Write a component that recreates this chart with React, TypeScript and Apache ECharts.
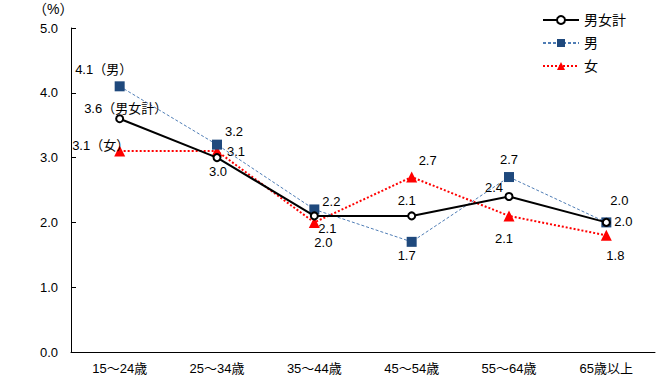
import React, { useEffect, useRef } from "react";
import * as echarts from "echarts";

const categories = ["15～24歳", "25～34歳", "35～44歳", "45～54歳", "55～64歳", "65歳以上"];
const totalValues = [3.6, 3.0, 2.1, 2.1, 2.4, 2.0];
const maleValues = [4.1, 3.2, 2.2, 1.7, 2.7, 2.0];
const femaleValues = [3.1, 3.1, 2.0, 2.7, 2.1, 1.8];
const yTicks = [0, 1, 2, 3, 4, 5];

// label offsets (px) relative to each point
const totalOffsets = [[6, -10], [1, 14], [13, 13], [-5, -15], [-15, -9], [17, -1]];
const maleOffsets = [[-16, -17], [17, -13], [17, -8], [-5, 14], [0, -18], [13, -22]];
const femaleOffsets = [[-19, -6], [19, 0], [9, 20], [16, -17], [-5, 23], [9, 20]];

const FONT = "'Liberation Sans', 'Noto Sans CJK JP', sans-serif";

function mk(values: number[], offsets: number[][], firstSuffix: string) {
  return values.map((v, i) => ({
    value: v,
    label: {
      show: true,
      position: "inside",
      offset: offsets[i],
      align: "center",
      verticalAlign: "middle",
      color: "#000",
      fontSize: 13,
      fontFamily: FONT,
      formatter: () => v.toFixed(1) + (i === 0 ? firstSuffix : ""),
    },
  }));
}

export default function App() {
  const ref = useRef<HTMLDivElement>(null);
  useEffect(() => {
    const chart = echarts.init(ref.current!, null, { renderer: "svg" });
    chart.setOption({
      animation: false,
      backgroundColor: "#fff",
      textStyle: { fontFamily: FONT },
      graphic: [
        {
          type: "text",
          left: 33,
          top: 2,
          style: { text: "（%）", fontSize: 14, fill: "#000", fontFamily: FONT },
        },
      ],
      legend: {
        orient: "vertical",
        left: 537,
        top: 8,
        itemWidth: 36,
        itemHeight: 10,
        itemGap: 9,
        textStyle: { fontSize: 14, color: "#000", fontFamily: FONT },
        data: ["男女計", "男", "女"],
      },
      grid: { left: 71, right: 14, top: 28, bottom: 28, containLabel: false },
      xAxis: {
        type: "category",
        data: categories,
        axisLine: { lineStyle: { color: "#000", width: 1 } },
        axisTick: { show: false },
        axisLabel: { color: "#000", fontSize: 13, margin: 10, fontFamily: FONT },
      },
      yAxis: {
        type: "value",
        min: yTicks[0],
        max: yTicks[yTicks.length - 1],
        interval: 1,
        axisLine: { show: true, lineStyle: { color: "#000", width: 1 } },
        axisTick: { show: true, inside: true, length: 5, lineStyle: { color: "#000" } },
        splitLine: { show: false },
        axisLabel: {
          color: "#000",
          fontSize: 13,
          margin: 13,
          fontFamily: FONT,
          formatter: (v: number) => v.toFixed(1),
        },
      },
      series: [
        {
          name: "男女計",
          type: "line",
          data: mk(totalValues, totalOffsets, "（男女計）"),
          symbol: "circle",
          symbolSize: 7,
          lineStyle: { color: "#000", width: 2 },
          itemStyle: { color: "#fff", borderColor: "#000", borderWidth: 2 },
          z: 4,
        },
        {
          name: "男",
          type: "line",
          data: mk(maleValues, maleOffsets, "（男）"),
          symbol: "rect",
          symbolSize: 10,
          lineStyle: { color: "#4F7DB5", width: 1, type: [3, 2] },
          itemStyle: { color: "#1F497D", borderWidth: 0 },
          z: 3,
        },
        {
          name: "女",
          type: "line",
          data: mk(femaleValues, femaleOffsets, "（女）"),
          symbol: "triangle",
          symbolSize: 11,
          lineStyle: { color: "#FF0000", width: 2, type: [2, 2] },
          itemStyle: { color: "#FF0000", borderWidth: 0 },
          z: 2,
        },
      ],
    });
    return () => chart.dispose();
  }, []);
  return (
    <div
      ref={ref}
      style={{ position: "fixed", left: 0, top: 0, width: 669, height: 380 }}
    />
  );
}
